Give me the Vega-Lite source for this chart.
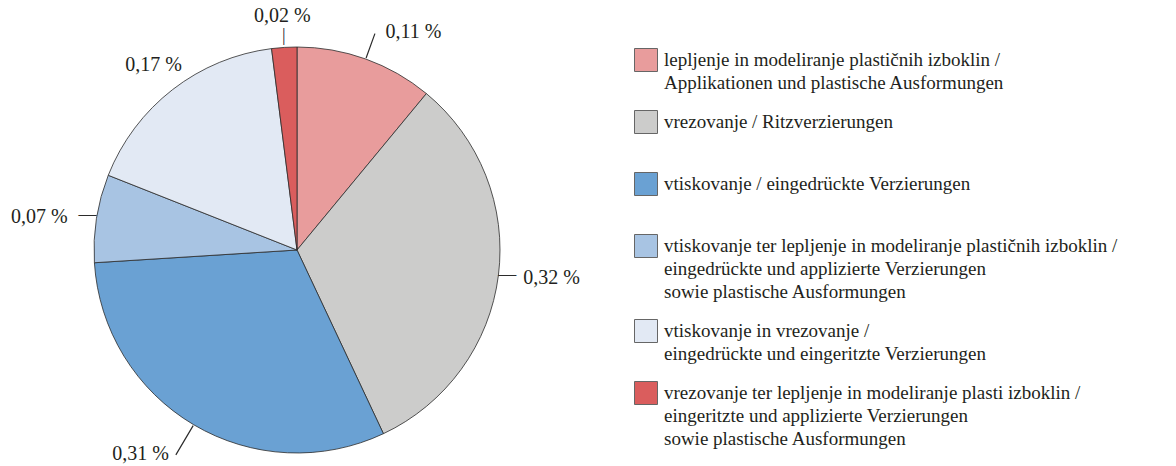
{
  "$schema": "https://vega.github.io/schema/vega-lite/v6.json",
  "width": 594,
  "height": 432,
  "autosize": {"type": "none"},
  "padding": {"left": 0, "top": 34, "right": 582, "bottom": 0},
  "background": "white",
  "config": {
    "view": {"stroke": null},
    "font": "Liberation Serif",
    "style": {"guide-label": {"lineHeight": 23}}
  },
  "data": {
    "values": [
      {"k": "lepljenje in modeliranje plastičnih izboklin /|Applikationen und plastische Ausformungen", "v": 0.11, "o": 1, "lab": "0,11 %"},
      {"k": "vrezovanje / Ritzverzierungen|", "v": 0.32, "o": 2, "lab": "0,32 %"},
      {"k": "vtiskovanje / eingedrückte Verzierungen|", "v": 0.31, "o": 3, "lab": "0,31 %"},
      {"k": "vtiskovanje ter lepljenje in modeliranje plastičnih izboklin /|eingedrückte und applizierte Verzierungen|sowie plastische Ausformungen", "v": 0.07, "o": 4, "lab": "0,07 %"},
      {"k": "vtiskovanje in vrezovanje /|eingedrückte und eingeritzte Verzierungen", "v": 0.17, "o": 5, "lab": "0,17 %"},
      {"k": "vrezovanje ter lepljenje in modeliranje plasti izboklin /|eingeritzte und applizierte Verzierungen|sowie plastische Ausformungen", "v": 0.02, "o": 6, "lab": "0,02 %"}
    ]
  },
  "layer": [
    {
      "mark": {"type": "arc", "outerRadius": 203, "stroke": "#2b2b2b", "strokeWidth": 0.8},
      "encoding": {
        "theta": {"field": "v", "type": "quantitative", "stack": true, "scale": {"domain": [0, 1]}},
        "order": {"field": "o", "type": "quantitative", "sort": "ascending"},
        "color": {
          "field": "k", "type": "nominal",
          "sort": {"field": "o"},
          "scale": {
            "domain": [
              "lepljenje in modeliranje plastičnih izboklin /|Applikationen und plastische Ausformungen",
              "vrezovanje / Ritzverzierungen|",
              "vtiskovanje / eingedrückte Verzierungen|",
              "vtiskovanje ter lepljenje in modeliranje plastičnih izboklin /|eingedrückte und applizierte Verzierungen|sowie plastische Ausformungen",
              "vtiskovanje in vrezovanje /|eingedrückte und eingeritzte Verzierungen",
              "vrezovanje ter lepljenje in modeliranje plasti izboklin /|eingeritzte und applizierte Verzierungen|sowie plastische Ausformungen"
            ],
            "range": ["#e89c9c", "#cccccb", "#6aa1d3", "#a8c4e3", "#e2e9f4", "#da5d5d"]
          },
          "legend": {
            "title": null,
            "orient": "none",
            "legendX": 634,
            "legendY": 14,
            "padding": 0,
            "symbolType": "square",
            "symbolSize": 529,
            "symbolStrokeColor": "#666666",
            "symbolStrokeWidth": 1,
            "labelFont": "Liberation Serif",
            "labelFontSize": 19,
            "labelColor": "#231f20",
            "labelLimit": 0,
            "labelOffset": 6,
            "rowPadding": 15,
            "labelExpr": "split(datum.label, '|')"
          }
        }
      }
    },
    {
      "transform": [
        {"stack": "v", "groupby": [], "sort": [{"field": "o", "order": "ascending"}], "as": ["s0", "s1"]},
        {"fold": ["s0", "s1"], "as": ["edge", "ang"]},
        {"aggregate": [{"op": "mean", "field": "ang", "as": "mid"}], "groupby": ["k", "o"]}
      ],
      "layer": [
        {
          "mark": {"type": "arc", "innerRadius": 204, "outerRadius": 230, "strokeWidth": 1.2, "fill": "transparent"},
          "encoding": {
            "theta": {"field": "mid", "type": "quantitative", "scale": {"domain": [0, 1]}},
            "theta2": {"field": "mid"},
            "stroke": {"condition": {"test": "datum.o == 1", "value": "#2b2b2b"}, "value": "transparent"}
          }
        },
        {
          "mark": {"type": "arc", "innerRadius": 204, "outerRadius": 238, "strokeWidth": 1.2, "fill": "transparent"},
          "encoding": {
            "theta": {"field": "mid", "type": "quantitative", "scale": {"domain": [0, 1]}},
            "theta2": {"field": "mid"},
            "stroke": {"condition": {"test": "datum.o == 3", "value": "#2b2b2b"}, "value": "transparent"}
          }
        }
      ]
    },
    {
      "mark": {"type": "text", "radius": 212, "fontSize": 18, "color": "#2b2b2b", "font": "Liberation Serif", "align": "center", "baseline": "middle", "dy": -2},
      "encoding": {
        "theta": {"field": "v", "type": "quantitative", "stack": true, "scale": {"domain": [0, 1]}},
        "order": {"field": "o", "type": "quantitative", "sort": "ascending"},
        "detail": {"field": "k", "type": "nominal"},
        "text": {
          "condition": [
            {"test": "datum.o == 2 || datum.o == 4", "value": "—"},
            {"test": "datum.o == 6", "value": "|"}
          ],
          "value": ""
        }
      }
    },
    {
      "mark": {"type": "text", "radius": 234, "fontSize": 20, "color": "#231f20", "font": "Liberation Serif", "align": "center"},
      "encoding": {
        "theta": {"field": "v", "type": "quantitative", "stack": true, "scale": {"domain": [0, 1]}},
        "order": {"field": "o", "type": "quantitative", "sort": "ascending"},
        "detail": {"field": "k", "type": "nominal"},
        "text": {"condition": {"test": "datum.o >= 5", "field": "lab"}, "value": ""}
      }
    },
    {
      "mark": {"type": "text", "radius": 222, "fontSize": 20, "color": "#231f20", "font": "Liberation Serif", "align": "left", "dx": 6, "dy": 0},
      "encoding": {
        "theta": {"field": "v", "type": "quantitative", "stack": true, "scale": {"domain": [0, 1]}},
        "order": {"field": "o", "type": "quantitative", "sort": "ascending"},
        "detail": {"field": "k", "type": "nominal"},
        "text": {"condition": {"test": "datum.o == 2", "field": "lab"}, "value": ""}
      }
    },
    {
      "mark": {"type": "text", "radius": 232, "fontSize": 20, "color": "#231f20", "font": "Liberation Serif", "align": "left", "dx": 10, "dy": 0},
      "encoding": {
        "theta": {"field": "v", "type": "quantitative", "stack": true, "scale": {"domain": [0, 1]}},
        "order": {"field": "o", "type": "quantitative", "sort": "ascending"},
        "detail": {"field": "k", "type": "nominal"},
        "text": {"condition": {"test": "datum.o == 1", "field": "lab"}, "value": ""}
      }
    },
    {
      "mark": {"type": "text", "radius": 222, "fontSize": 20, "color": "#231f20", "font": "Liberation Serif", "align": "right", "dx": -10, "dy": 2},
      "encoding": {
        "theta": {"field": "v", "type": "quantitative", "stack": true, "scale": {"domain": [0, 1]}},
        "order": {"field": "o", "type": "quantitative", "sort": "ascending"},
        "detail": {"field": "k", "type": "nominal"},
        "text": {"condition": {"test": "datum.o == 4", "field": "lab"}, "value": ""}
      }
    },
    {
      "mark": {"type": "text", "radius": 240, "fontSize": 20, "color": "#231f20", "font": "Liberation Serif", "align": "right", "dx": -6, "dy": -3},
      "encoding": {
        "theta": {"field": "v", "type": "quantitative", "stack": true, "scale": {"domain": [0, 1]}},
        "order": {"field": "o", "type": "quantitative", "sort": "ascending"},
        "detail": {"field": "k", "type": "nominal"},
        "text": {"condition": {"test": "datum.o == 3", "field": "lab"}, "value": ""}
      }
    }
  ]
}
